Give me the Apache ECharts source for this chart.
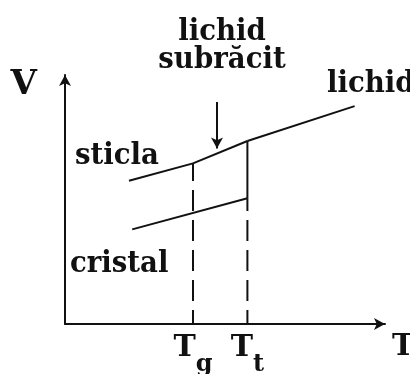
<!DOCTYPE html>
<html>
<head>
<meta charset="utf-8">
<script src="https://cdn.jsdelivr.net/npm/echarts@6/dist/echarts.min.js"></script>
<style>
  html, body { margin: 0; padding: 0; background: #fff; }
  #chart { width: 410px; height: 374px; }
</style>
</head>
<body>
<div id="chart"></div>
<script>
// V–T diagram: glass vs. crystal on cooling a melt
const Tg = 4.0;   // glass transition temperature
const Tt = 5.7;   // melting (transition) temperature

const glassLine       = [[2.0, 5.75], [Tg, 6.45]];
const supercooledLine = [[Tg, 6.45], [Tt, 7.35]];
const liquidLine      = [[Tt, 7.35], [9.05, 8.75]];
const crystalLine     = [[2.1, 3.8], [Tt, 5.05]];
const meltingJump     = [[Tt, 5.05], [Tt, 7.35]];
// drop lines to the T axis (drawn upward from the axis)
const dropTg          = [[Tg, 0], [Tg, 6.45]];
const dropTt          = [[Tt, 0], [Tt, 5.05]];
const pointerArrow    = [[4.75, 8.92], [4.75, 7.05]];

const tickValues = [Tg, Tt];
const tickLabels = ['{m|T}{s|g}', '{m|T}{s|t}'];

const FONT = 'DejaVu Serif';
const INK = '#111';
const LABEL_FONT = 'bold 30px "DejaVu Serif"';

const chart = echarts.init(document.getElementById('chart'), null, { renderer: 'canvas' });

const solid = (data) => ({
  type: 'line', data, symbol: 'none', silent: true,
  lineStyle: { color: INK, width: 2 }
});
const dashed = (data) => ({
  type: 'line', data, symbol: 'none', silent: true,
  lineStyle: { color: INK, width: 2, type: [21, 9], dashOffset: 7 }
});

// free-standing phase annotations (slightly narrowed serif)
const note = (text, x, y, align) => ({
  type: 'text', x, y, scaleX: 0.92,
  style: { text, font: LABEL_FONT, fill: INK, align: align || 'left', lineHeight: 28 }
});

chart.setOption({
  backgroundColor: '#fff',
  animation: false,
  grid: { left: 65, right: 25, top: 75, bottom: 50, outerBoundsMode: 'none', containLabel: false },
  xAxis: {
    type: 'value', min: 0, max: 10,
    splitLine: { show: false },
    axisTick: { show: false },
    axisLine: {
      lineStyle: { color: INK, width: 2 },
      symbol: ['none', 'arrow'], symbolSize: [9, 11]
    },
    axisLabel: {
      customValues: tickValues,
      margin: 9,
      formatter: (v) => tickLabels[tickValues.indexOf(v)] || '',
      rich: {
        m: { fontFamily: FONT, fontWeight: 'bold', fontSize: 30, color: INK, lineHeight: 30, verticalAlign: 'top' },
        s: { fontFamily: FONT, fontWeight: 'bold', fontSize: 24, color: INK, lineHeight: 64 }
      }
    },
    name: 'T', nameLocation: 'end', nameGap: 7,
    nameTextStyle: { fontFamily: FONT, fontWeight: 'bold', fontSize: 30, color: INK, verticalAlign: 'top', padding: [8, 0, 0, 0] }
  },
  yAxis: {
    type: 'value', min: 0, max: 10,
    splitLine: { show: false },
    axisTick: { show: false },
    axisLabel: { show: false },
    axisLine: {
      lineStyle: { color: INK, width: 2 },
      symbol: ['none', 'arrow'], symbolSize: [9, 11]
    },
    name: 'V', nameLocation: 'end', nameGap: -10,
    nameTextStyle: { fontFamily: FONT, fontWeight: 'bold', fontSize: 34, color: INK, align: 'right', verticalAlign: 'middle', padding: [0, 28, 0, 0] }
  },
  series: [
    solid(glassLine),
    solid(supercooledLine),
    solid(liquidLine),
    solid(crystalLine),
    solid(meltingJump),
    dashed(dropTg),
    dashed(dropTt),
    {
      type: 'line', data: [], silent: true,
      markLine: {
        silent: true, symbol: ['none', 'arrow'], symbolSize: [9, 11],
        label: { show: false },
        lineStyle: { color: INK, width: 2, type: 'solid' },
        data: [[{ coord: pointerArrow[0] }, { coord: pointerArrow[1] }]]
      }
    }
  ],
  graphic: [
    note('lichid\nsubrăcit', 222, 18, 'center'),
    note('lichid', 327, 70),
    note('sticla', 75, 142),
    note('cristal', 70, 250)
  ]
});
</script>
</body>
</html>
